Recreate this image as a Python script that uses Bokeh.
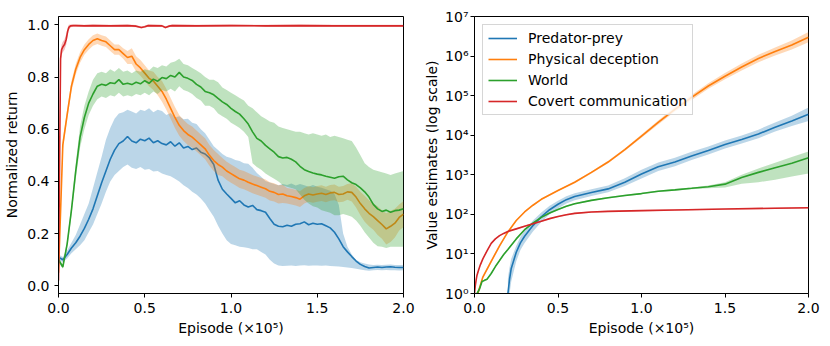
from bokeh.plotting import figure
from bokeh.layouts import row
from bokeh.models import (FixedTicker, CustomJSTickFormatter, PrintfTickFormatter,
                          Legend, LegendItem, Range1d)
from bokeh.embed import file_html
from bokeh.resources import INLINE

# ---------------- data (episode in units of 1e5) ----------------
ep = [0.0, 0.025, 0.05, 0.075, 0.1, 0.125, 0.15, 0.175, 0.2, 0.225,
      0.25, 0.275, 0.3, 0.325, 0.35, 0.375, 0.4, 0.425, 0.45, 0.475,
      0.5, 0.525, 0.55, 0.575, 0.6, 0.625, 0.65, 0.675, 0.7, 0.725,
      0.75, 0.775, 0.8, 0.825, 0.85, 0.875, 0.9, 0.925, 0.95, 0.975,
      1.0, 1.025, 1.05, 1.075, 1.1, 1.125, 1.15, 1.175, 1.2, 1.225,
      1.25, 1.275, 1.3, 1.325, 1.35, 1.375, 1.4, 1.425, 1.45, 1.475,
      1.5, 1.525, 1.55, 1.575, 1.6, 1.625, 1.65, 1.675, 1.7, 1.725,
      1.75, 1.775, 1.8, 1.825, 1.85, 1.875, 1.9, 1.925, 1.95, 1.975,
      2.0]

# Predator-prey (normalized return)
pp_mean = [0.11, 0.10, 0.12, 0.145, 0.165, 0.19, 0.22, 0.255, 0.295, 0.345,
           0.395, 0.44, 0.485, 0.52, 0.545, 0.555, 0.572, 0.555, 0.548, 0.562,
           0.556, 0.566, 0.548, 0.556, 0.545, 0.54, 0.552, 0.535, 0.548, 0.528,
           0.534, 0.522, 0.528, 0.512, 0.505, 0.49, 0.465, 0.405, 0.37, 0.352,
           0.335, 0.318, 0.326, 0.31, 0.302, 0.308, 0.292, 0.288, 0.282, 0.258,
           0.236, 0.228, 0.226, 0.232, 0.228, 0.236, 0.238, 0.245, 0.234, 0.24,
           0.236, 0.238, 0.23, 0.222, 0.205, 0.18, 0.15, 0.13, 0.112, 0.095,
           0.082, 0.074, 0.068, 0.07, 0.072, 0.07, 0.072, 0.073, 0.071, 0.07,
           0.07]
pp_hi = [0.12, 0.11, 0.135, 0.165, 0.195, 0.235, 0.275, 0.315, 0.375, 0.435,
         0.495, 0.56, 0.605, 0.64, 0.66, 0.665, 0.675, 0.668, 0.66, 0.675,
         0.67, 0.68, 0.665, 0.675, 0.67, 0.655, 0.662, 0.645, 0.65, 0.638,
         0.64, 0.625, 0.62, 0.6, 0.585, 0.56, 0.535, 0.52, 0.505, 0.495,
         0.49, 0.482, 0.478, 0.47, 0.468, 0.452, 0.432, 0.418, 0.402, 0.396,
         0.39, 0.385, 0.39, 0.386, 0.392, 0.384, 0.39, 0.385, 0.38, 0.386,
         0.38, 0.376, 0.37, 0.364, 0.352, 0.31, 0.2, 0.15, 0.12, 0.1,
         0.09, 0.085, 0.082, 0.08, 0.081, 0.08, 0.081, 0.082, 0.08, 0.08,
         0.08]
pp_lo = [0.10, 0.09, 0.105, 0.125, 0.14, 0.155, 0.175, 0.205, 0.235, 0.275,
         0.315, 0.36, 0.4, 0.425, 0.44, 0.455, 0.465, 0.452, 0.448, 0.455,
         0.445, 0.448, 0.438, 0.44, 0.43, 0.425, 0.42, 0.41, 0.4, 0.385,
         0.375, 0.36, 0.35, 0.335, 0.315, 0.29, 0.265, 0.23, 0.2, 0.175,
         0.16, 0.155, 0.15, 0.148, 0.145, 0.14, 0.14, 0.13, 0.12, 0.1,
         0.085, 0.078, 0.076, 0.077, 0.078, 0.076, 0.078, 0.079, 0.077, 0.078,
         0.078, 0.077, 0.078, 0.076, 0.075, 0.074, 0.072, 0.07, 0.068, 0.065,
         0.062, 0.06, 0.058, 0.06, 0.061, 0.06, 0.061, 0.06, 0.06, 0.059,
         0.06]

# Physical deception (normalized return)
pd_mean = [0.05, 0.54, 0.655, 0.765, 0.83, 0.875, 0.905, 0.925, 0.94, 0.947,
           0.94, 0.935, 0.92, 0.905, 0.905, 0.89, 0.875, 0.88, 0.85, 0.835,
           0.815, 0.795, 0.785, 0.765, 0.745, 0.715, 0.68, 0.645, 0.615, 0.595,
           0.58, 0.57, 0.555, 0.54, 0.525, 0.5, 0.48, 0.465, 0.455, 0.44,
           0.43, 0.42, 0.41, 0.405, 0.397, 0.39, 0.384, 0.378, 0.372, 0.362,
           0.358, 0.35, 0.352, 0.345, 0.342, 0.338, 0.332, 0.345, 0.352, 0.348,
           0.352, 0.355, 0.35, 0.356, 0.358, 0.35, 0.352, 0.36, 0.358, 0.34,
           0.315, 0.295, 0.278, 0.265, 0.25, 0.235, 0.218, 0.228, 0.24, 0.262,
           0.275]
pd_err = [0.01, 0.02, 0.02, 0.02, 0.02, 0.02, 0.02, 0.02, 0.02, 0.02,
          0.02, 0.02, 0.02, 0.02, 0.02, 0.02, 0.025, 0.03, 0.03, 0.03,
          0.03, 0.03, 0.035, 0.035, 0.04, 0.04, 0.04, 0.04, 0.04, 0.04,
          0.04, 0.04, 0.04, 0.04, 0.04, 0.04, 0.04, 0.04, 0.035, 0.035,
          0.035, 0.035, 0.035, 0.035, 0.035, 0.035, 0.035, 0.035, 0.035, 0.035,
          0.035, 0.035, 0.035, 0.03, 0.03, 0.03, 0.03, 0.03, 0.03, 0.03,
          0.03, 0.03, 0.03, 0.03, 0.03, 0.03, 0.03, 0.03, 0.035, 0.04,
          0.045, 0.05, 0.05, 0.05, 0.055, 0.055, 0.06, 0.06, 0.055, 0.05,
          0.05]

# World (normalized return)
w_mean = [0.10, 0.072, 0.16, 0.29, 0.44, 0.57, 0.645, 0.70, 0.735, 0.765,
          0.772, 0.768, 0.778, 0.775, 0.79, 0.772, 0.776, 0.771, 0.78, 0.774,
          0.786, 0.776, 0.792, 0.784, 0.798, 0.794, 0.806, 0.8, 0.818, 0.8,
          0.795, 0.787, 0.772, 0.762, 0.745, 0.74, 0.732, 0.718, 0.705, 0.695,
          0.68, 0.668, 0.658, 0.64, 0.62, 0.59, 0.565, 0.555, 0.538, 0.525,
          0.512, 0.495, 0.49, 0.492, 0.485, 0.475, 0.458, 0.445, 0.438, 0.432,
          0.428, 0.425, 0.42, 0.416, 0.412, 0.418, 0.42, 0.406, 0.395, 0.388,
          0.375, 0.36, 0.34, 0.312, 0.295, 0.285, 0.29, 0.282, 0.288, 0.29,
          0.295]
w_hi = [0.11, 0.08, 0.175, 0.31, 0.47, 0.61, 0.69, 0.745, 0.79, 0.815,
        0.82, 0.815, 0.83, 0.82, 0.835, 0.82, 0.825, 0.815, 0.825, 0.82,
        0.83, 0.825, 0.84, 0.835, 0.845, 0.84, 0.855, 0.86, 0.87, 0.85,
        0.845, 0.835, 0.825, 0.815, 0.8, 0.79, 0.79, 0.78, 0.76, 0.75,
        0.74, 0.73, 0.72, 0.71, 0.69, 0.68, 0.665, 0.65, 0.64, 0.63,
        0.625, 0.61, 0.605, 0.6, 0.595, 0.59, 0.59, 0.585, 0.58, 0.585,
        0.58, 0.575, 0.58, 0.57, 0.575, 0.57, 0.565, 0.56, 0.555, 0.53,
        0.5, 0.47, 0.455, 0.445, 0.44, 0.435, 0.43, 0.425, 0.43, 0.435,
        0.44]
w_lo = [0.09, 0.065, 0.145, 0.27, 0.41, 0.53, 0.6, 0.655, 0.69, 0.715,
        0.725, 0.72, 0.73, 0.725, 0.74, 0.725, 0.73, 0.725, 0.735, 0.73,
        0.74, 0.73, 0.745, 0.735, 0.75, 0.745, 0.755, 0.745, 0.765, 0.75,
        0.745, 0.735, 0.72, 0.71, 0.69, 0.69, 0.68, 0.66, 0.65, 0.64,
        0.625, 0.615, 0.605, 0.59, 0.57, 0.47, 0.455, 0.445, 0.43, 0.42,
        0.41, 0.4, 0.385, 0.38, 0.375, 0.37, 0.35, 0.33, 0.315, 0.305,
        0.3, 0.29, 0.285, 0.28, 0.27, 0.27, 0.275, 0.27, 0.265, 0.25,
        0.23, 0.205, 0.185, 0.165, 0.152, 0.15, 0.145, 0.15, 0.15, 0.15,
        0.15]

# Covert communication (normalized return)
cc_x = [0.0, 0.006, 0.012, 0.018, 0.025, 0.035, 0.045, 0.053, 0.06, 0.07,
        0.085, 0.1, 0.15, 0.2, 0.3, 0.4, 0.45, 0.48, 0.5, 0.52,
        0.6, 0.62, 0.64, 0.66, 0.8, 1.0, 1.2, 1.4, 1.6, 1.8, 2.0]
cc_mean = [0.02, 0.45, 0.87, 0.905, 0.915, 0.925, 0.945, 0.975, 0.99, 0.996,
           0.997, 0.997, 0.996, 0.997, 0.996, 0.997, 0.995, 0.99, 0.993, 0.997,
           0.996, 0.99, 0.995, 0.997, 0.996, 0.997, 0.996, 0.997, 0.996, 0.996, 0.996]
cc_err = [0.005, 0.02, 0.02, 0.02, 0.02, 0.02, 0.02, 0.015, 0.01, 0.005,
          0.004, 0.004, 0.004, 0.004, 0.004, 0.004, 0.004, 0.004, 0.004, 0.004,
          0.004, 0.004, 0.004, 0.004, 0.004, 0.004, 0.004, 0.004, 0.004, 0.004, 0.004]

# Value estimates (log scale)
pp_vx = [0.2, 0.205, 0.21, 0.22, 0.25, 0.275, 0.3, 0.35, 0.4, 0.45,
         0.5, 0.55, 0.6, 0.7, 0.8, 0.9, 1.0, 1.1, 1.2, 1.3,
         1.4, 1.5, 1.6, 1.7, 1.8, 1.9, 2.0]
pp_v = [1.0, 1.5, 2.3, 4.3, 11, 19, 28, 52, 87, 131,
        180, 235, 282, 355, 440, 650, 1050, 1600, 2100, 3000,
        4100, 5800, 7800, 10700, 16000, 23000, 34000]
pp_vhi = [2.4, 3.4, 4.6, 7.5, 16, 27, 39, 70, 112, 165,
          222, 285, 340, 430, 540, 820, 1350, 2050, 2700, 3800,
          5200, 7300, 9900, 13800, 21000, 31000, 50000]
pp_vlo = [1.0, 1.0, 1.0, 2.0, 6.5, 12.5, 19, 37, 64, 100,
          140, 188, 228, 290, 360, 520, 800, 1250, 1650, 2350,
          3250, 4600, 6200, 8400, 12500, 17000, 23000]

pd_vx = [0.02, 0.05, 0.1, 0.15, 0.2, 0.25, 0.3, 0.35, 0.4, 0.5,
         0.6, 0.7, 0.8, 0.9, 1.0, 1.1, 1.2, 1.3, 1.4, 1.5,
         1.6, 1.7, 1.8, 1.9, 2.0]
pd_v = [1.0, 2.6, 6.5, 16, 36, 70, 115, 170, 240, 400,
        650, 1150, 2100, 4300, 9500, 21000, 45000, 90000, 175000, 310000,
        530000, 870000, 1300000, 1900000, 3000000]
pd_vf = [1.0, 1.1, 1.1, 1.08, 1.06, 1.05, 1.05, 1.05, 1.05, 1.05,
         1.06, 1.06, 1.07, 1.08, 1.1, 1.12, 1.14, 1.16, 1.18, 1.2,
         1.22, 1.24, 1.26, 1.3, 1.35]

w_vx = [0.015, 0.03, 0.045, 0.06, 0.075, 0.1, 0.125, 0.15, 0.175, 0.2,
        0.25, 0.3, 0.35, 0.4, 0.45, 0.5, 0.55, 0.6, 0.7, 0.8,
        0.9, 1.0, 1.1, 1.2, 1.3, 1.4, 1.5, 1.6, 1.7, 1.8, 1.9, 2.0]
w_v = [1.0, 1.3, 2.0, 2.15, 2.3, 3.2, 4.8, 6.8, 9.7, 13,
       24, 41, 60, 84, 108, 133, 160, 185, 226, 262,
       300, 335, 385, 415, 455, 500, 580, 850, 1150, 1500, 1950, 2700]
w_vhi = [1.0, 1.35, 2.1, 2.25, 2.4, 3.35, 5.0, 7.1, 10.2, 13.7,
         25, 43, 63, 88, 113, 139, 167, 193, 236, 274,
         314, 350, 402, 435, 480, 540, 650, 1000, 1450, 2000, 2800, 3900]
w_vlo = [1.0, 1.25, 1.9, 2.05, 2.2, 3.05, 4.6, 6.5, 9.3, 12.4,
         23, 39, 57, 80, 103, 127, 153, 177, 216, 250,
         287, 320, 368, 396, 432, 455, 480, 590, 650, 750, 900, 1070]

cc_vx = [0.0, 0.005, 0.01, 0.015, 0.025, 0.035, 0.05, 0.075, 0.1, 0.125,
         0.15, 0.175, 0.2, 0.25, 0.3, 0.35, 0.4, 0.45, 0.5, 0.55,
         0.6, 0.7, 0.8, 1.0, 1.2, 1.5, 1.8, 2.0]
cc_v = [1.0, 1.6, 2.2, 2.9, 4.0, 5.3, 7.5, 12, 18.5, 24,
        29, 33, 37, 43, 50, 58, 67, 78, 88, 98,
        106, 115, 119, 124, 129, 136, 143, 147]
cc_vf = 1.04

labels = ["Predator-prey", "Physical deception", "World", "Covert communication"]
colors = ["#1f77b4", "#ff7f0e", "#2ca02c", "#d62728"]
x_ticks = [0.0, 0.5, 1.0, 1.5, 2.0]
y_ticks_left = [0.0, 0.2, 0.4, 0.6, 0.8, 1.0]
y_ticks_right = [1, 10, 100, 1000, 10000, 100000, 1000000, 10000000]

FONT = "DejaVu Sans"
FS = "14px"
BAND_ALPHA = 0.3
LW = 1.6


def style(p):
    p.grid.visible = False
    p.outline_line_color = "black"
    p.outline_line_width = 1
    p.background_fill_color = "white"
    p.border_fill_color = "white"
    for ax in (p.xaxis[0], p.yaxis[0]):
        ax.axis_line_color = "black"
        ax.major_tick_line_color = "black"
        ax.major_tick_out = 4
        ax.major_tick_in = 0
        ax.minor_tick_out = 0
        ax.minor_tick_in = 0
        ax.major_label_text_font = FONT
        ax.major_label_text_font_size = FS
        ax.major_label_text_color = "black"
        ax.axis_label_text_font = FONT
        ax.axis_label_text_font_size = FS
        ax.axis_label_text_font_style = "normal"
        ax.axis_label_text_color = "black"
    p.xaxis[0].ticker = FixedTicker(ticks=x_ticks)
    p.xaxis[0].formatter = PrintfTickFormatter(format="%.1f")
    p.xaxis[0].axis_label = "Episode (\u00d710\u2075)"
    p.xaxis[0].major_label_standoff = 5
    p.xaxis[0].axis_label_standoff = 4


# ---------------- left panel ----------------
p1 = figure(width=415, height=340, output_backend="svg", toolbar_location=None,
            x_range=Range1d(0.0, 2.0), y_range=Range1d(-0.0295, 1.032),
            min_border_left=58, min_border_right=12, min_border_top=16, min_border_bottom=47)
style(p1)
p1.yaxis[0].ticker = FixedTicker(ticks=y_ticks_left)
p1.yaxis[0].formatter = PrintfTickFormatter(format="%.1f")
p1.yaxis[0].axis_label = "Normalized return"
p1.yaxis[0].major_label_standoff = 5
p1.yaxis[0].axis_label_standoff = 4

pd_hi = [m + e for m, e in zip(pd_mean, pd_err)]
pd_lo = [m - e for m, e in zip(pd_mean, pd_err)]
cc_hi = [m + e for m, e in zip(cc_mean, cc_err)]
cc_lo = [m - e for m, e in zip(cc_mean, cc_err)]

left_series = [
    (ep, pp_mean, pp_lo, pp_hi),
    (ep, pd_mean, pd_lo, pd_hi),
    (ep, w_mean, w_lo, w_hi),
    (cc_x, cc_mean, cc_lo, cc_hi),
]
for (x, m, lo, hi), c in zip(left_series, colors):
    p1.varea(x=x, y1=lo, y2=hi, fill_color=c, fill_alpha=BAND_ALPHA)
    p1.line(x=x, y=m, line_color=c, line_width=LW)

# ---------------- right panel ----------------
p2 = figure(width=415, height=340, output_backend="svg", toolbar_location=None,
            y_axis_type="log",
            x_range=Range1d(0.0, 2.0), y_range=Range1d(1, 1e7),
            min_border_left=59, min_border_right=22, min_border_top=16, min_border_bottom=47)
style(p2)
p2.yaxis[0].ticker = FixedTicker(ticks=y_ticks_right, minor_ticks=[])
p2.yaxis[0].formatter = CustomJSTickFormatter(code="""
    const sup = {'0':'\u2070','1':'\u00b9','2':'\u00b2','3':'\u00b3','4':'\u2074',
                 '5':'\u2075','6':'\u2076','7':'\u2077','8':'\u2078','9':'\u2079','-':'\u207b'};
    const e = Math.round(Math.log10(tick));
    return '10' + String(e).split('').map(c => sup[c]).join('');
""")
p2.yaxis[0].axis_label = "Value estimates (log scale)"
p2.yaxis[0].major_label_standoff = 2
p2.yaxis[0].axis_label_standoff = 2

pd_vhi = [v * f for v, f in zip(pd_v, pd_vf)]
pd_vlo = [v / f for v, f in zip(pd_v, pd_vf)]
cc_vhi = [v * cc_vf for v in cc_v]
cc_vlo = [max(1.0, v / cc_vf) for v in cc_v]

right_series = [
    (pp_vx, pp_v, pp_vlo, pp_vhi),
    (pd_vx, pd_v, pd_vlo, pd_vhi),
    (w_vx, w_v, w_vlo, w_vhi),
    (cc_vx, cc_v, cc_vlo, cc_vhi),
]
items = []
for (x, m, lo, hi), c, lab in zip(right_series, colors, labels):
    p2.varea(x=x, y1=lo, y2=hi, fill_color=c, fill_alpha=BAND_ALPHA)
    r = p2.line(x=x, y=m, line_color=c, line_width=LW)
    items.append(LegendItem(label=lab, renderers=[r]))

legend = Legend(items=items, location="top_left", margin=8, padding=5,
                spacing=5, glyph_width=29, glyph_height=16, label_height=16,
                label_standoff=11, label_text_font=FONT, label_text_font_size=FS,
                label_text_color="black", border_line_color="#cccccc",
                border_line_alpha=0.8, background_fill_color="white",
                background_fill_alpha=0.8)
p2.add_layout(legend)

layout = row(p1, p2)
open("out.html", "w").write(file_html(layout, INLINE))
